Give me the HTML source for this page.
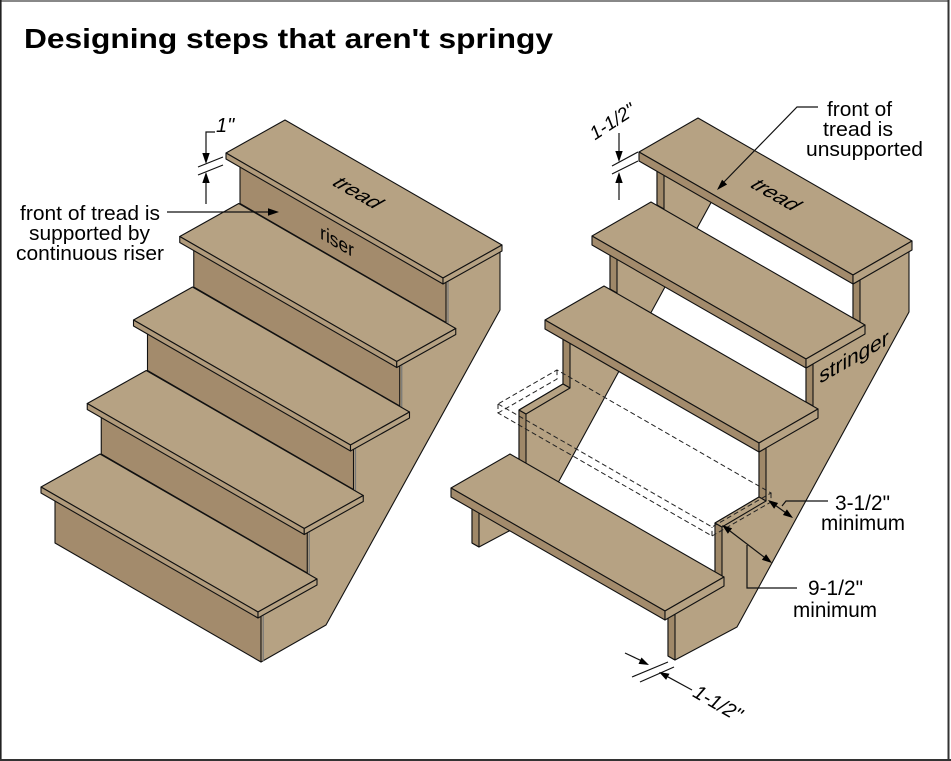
<!DOCTYPE html>
<html>
<head>
<meta charset="utf-8">
<style>
  html, body { margin: 0; padding: 0; background: #fff; }
  svg { display: block; }
  .t { fill: #b6a283; stroke: #111; stroke-width: 1.1; stroke-linejoin: round; }
  .f { fill: #b09a7b; stroke: #111; stroke-width: 1.1; stroke-linejoin: round; }
  .d { fill: #a38b6c; stroke: #111; stroke-width: 1.1; stroke-linejoin: round; }
  .s { fill: #9f8868; stroke: #111; stroke-width: 1.1; stroke-linejoin: round; }
  .ln { fill: none; stroke: #111; stroke-width: 1.2; }
  .ah { fill: #000; stroke: none; }
  text { font-family: "Liberation Sans", Arial, sans-serif; fill: #000; }
</style>
</head>
<body>
<svg width="951" height="761" viewBox="0 0 951 761" xmlns="http://www.w3.org/2000/svg">
  <rect x="0" y="0" width="951" height="761" fill="#fff"/>
  <!-- frame -->
  <line x1="0" y1="1" x2="949" y2="1" stroke="#888" stroke-width="2"/>
  <line x1="0.8" y1="0" x2="0.8" y2="761" stroke="#222" stroke-width="1.6"/>
  <line x1="948.5" y1="0" x2="948.5" y2="761" stroke="#333" stroke-width="2"/>
  <line x1="0" y1="760" x2="951" y2="760" stroke="#333" stroke-width="2"/>

  <!-- title -->
  <text x="24" y="48" font-size="28" font-weight="bold" textLength="529" lengthAdjust="spacingAndGlyphs">Designing steps that aren't springy</text>

  <!-- ============ LEFT STAIR ============ -->
  <polygon class="t" points="500,250 500,310 326,625 261,662 258,616 304,532 350,449 397,365 443,282"/>

  <!-- step 0 -->
  <polygon class="d" points="240,151 446,270 446,322.5 240,203.5"/>
  <line x1="448" y1="281" x2="448" y2="323.5" stroke="#777" stroke-width="1.2"/>
  <polygon class="t" points="226,153 443,278 502,245 285,120"/>
  <polygon class="f" points="226,153 443,278 443,284 226,159"/>
  <polygon class="t" points="443,278 502,245 502,251 443,284"/>

  <!-- step 1 -->
  <polygon class="d" points="193.75,234.5 399.75,353.5 399.75,406 193.75,287"/>
  <line x1="401.75" y1="365" x2="401.75" y2="407" stroke="#777" stroke-width="1.2"/>
  <polygon class="t" points="179.75,236.5 396.75,361.5 455.75,328.5 238.75,203.5"/>
  <polygon class="f" points="179.75,236.5 396.75,361.5 396.75,367.5 179.75,242.5"/>
  <polygon class="t" points="396.75,361.5 455.75,328.5 455.75,334.5 396.75,367.5"/>

  <!-- step 2 -->
  <polygon class="d" points="147.5,318 353.5,437 353.5,489.5 147.5,370.5"/>
  <line x1="355.5" y1="448.5" x2="355.5" y2="490.6" stroke="#777" stroke-width="1.2"/>
  <polygon class="t" points="133.5,320 350.5,445 409.5,412 192.5,287"/>
  <polygon class="f" points="133.5,320 350.5,445 350.5,451 133.5,326"/>
  <polygon class="t" points="350.5,445 409.5,412 409.5,418 350.5,451"/>

  <!-- step 3 -->
  <polygon class="d" points="101.25,401.5 307.25,520.5 307.25,573 101.25,454"/>
  <line x1="309.25" y1="532" x2="309.25" y2="574" stroke="#777" stroke-width="1.2"/>
  <polygon class="t" points="87.25,403.5 304.25,528.5 363.25,495.5 146.25,370.5"/>
  <polygon class="f" points="87.25,403.5 304.25,528.5 304.25,534.5 87.25,409.5"/>
  <polygon class="t" points="304.25,528.5 363.25,495.5 363.25,501.5 304.25,534.5"/>

  <!-- step 4 -->
  <polygon class="d" points="55,485 261,604 261,662 55,543"/>
  <line x1="263.2" y1="615.5" x2="263.2" y2="661" stroke="#777" stroke-width="1.2"/>
  <polygon class="t" points="41,487 258,612 317,579 100,454"/>
  <polygon class="f" points="41,487 258,612 258,618 41,493"/>
  <polygon class="t" points="258,612 317,579 317,585 258,618"/>

  <!-- left labels -->
  <text transform="matrix(0.866,0.5,-0.866,0.5,358,193)" x="0" y="7" font-size="22" text-anchor="middle">tread</text>
  <text transform="matrix(0.866,0.5,0,1,337,241)" x="0" y="7" font-size="20" text-anchor="middle">riser</text>

  <text x="20" y="220" font-size="20" textLength="140" lengthAdjust="spacingAndGlyphs">front of tread is</text>
  <text x="29" y="240" font-size="20" textLength="121" lengthAdjust="spacingAndGlyphs">supported by</text>
  <text x="16" y="260" font-size="20" textLength="148" lengthAdjust="spacingAndGlyphs">continuous riser</text>
  <line class="ln" x1="167" y1="212" x2="269" y2="212"/>
  <polygon class="ah" points="279,212 268,208.3 268,215.7"/>

  <!-- 1" dimension -->
  <polyline class="ln" points="215,132 206,132 206,154"/>
  <polygon class="ah" points="206,164 202.3,153 209.7,153"/>
  <line class="ln" x1="198" y1="167" x2="223" y2="157"/>
  <line class="ln" x1="198" y1="175" x2="223" y2="165"/>
  <polygon class="ah" points="206,172 202.3,183 209.7,183"/>
  <line class="ln" x1="206" y1="182" x2="206" y2="204"/>
  <text x="216" y="132" font-size="20" font-style="italic">1"</text>

  <!-- ============ RIGHT STAIR ============ -->
  <!-- left stringer (translated copy) -->
  <g transform="translate(-196,-113)">
    <polygon class="t" points="909,249 909,312 737,627 675,660 668,656 668,618 715,576 715,523 759,497 759,452 806,405 806,368 853,319 853,284"/>
    <polygon class="s" points="853,284 860,280 860,322 853,318"/>
    <polygon class="s" points="806,368 813,364 813,406 806,402"/>
    <polygon class="s" points="759,452 766,448 766,501 759,497"/>
    <polygon class="s" points="715,523 722,527 722,580 715,576"/>
    <polygon class="s" points="668,618 675,614 675,660 668,656"/>
    <polygon class="t" points="715,523 759,497 766,501 722,527"/>
  </g>
  <!-- right stringer -->
  <g>
    <polygon class="t" points="909,249 909,312 737,627 675,660 668,656 668,618 715,576 715,523 759,497 759,452 806,405 806,368 853,319 853,284"/>
    <polygon class="s" points="853,284 860,280 860,322 853,318"/>
    <polygon class="s" points="806,368 813,364 813,406 806,402"/>
    <polygon class="s" points="759,452 766,448 766,501 759,497"/>
    <polygon class="s" points="715,523 722,527 722,580 715,576"/>
    <polygon class="s" points="668,618 675,614 675,660 668,656"/>
    <polygon class="t" points="715,523 759,497 766,501 722,527"/>
  </g>

  <!-- missing tread, dashed -->
  <g fill="none" stroke="#222" stroke-width="1" stroke-dasharray="5,3">
    <polygon points="498,404 712,527 771,493 557,370"/>
    <polyline points="498,404 498,413 712,536 712,527"/>
    <polyline points="712,536 771,502 771,493"/>
    <polyline points="498,413 557,379 557,370"/>
  </g>

  <!-- tread A -->
  <polygon class="t" points="639,152 853,275 912,241 698,118"/>
  <polygon class="d" points="639,152 853,275 853,284 639,161"/>
  <polygon class="t" points="853,275 912,241 912,250 853,284"/>
  <!-- tread B -->
  <polygon class="t" points="592,236 806,359 865,325 651,202"/>
  <polygon class="d" points="592,236 806,359 806,368 592,245"/>
  <polygon class="t" points="806,359 865,325 865,334 806,368"/>
  <!-- tread C -->
  <polygon class="t" points="545,320 759,443 818,409 604,286"/>
  <polygon class="d" points="545,320 759,443 759,452 545,329"/>
  <polygon class="t" points="759,443 818,409 818,418 759,452"/>
  <!-- tread E -->
  <polygon class="t" points="451,488 665,611 724,577 510,454"/>
  <polygon class="d" points="451,488 665,611 665,620 451,497"/>
  <polygon class="t" points="665,611 724,577 724,586 665,620"/>

  <!-- right labels on wood -->
  <text transform="matrix(0.866,0.5,-0.866,0.5,776,195)" x="0" y="7" font-size="22" text-anchor="middle">tread</text>
  <text transform="matrix(0.866,-0.5,0,1,854,357)" x="0" y="7" font-size="22" text-anchor="middle" textLength="80" lengthAdjust="spacingAndGlyphs">stringer</text>

  <!-- front of tread is unsupported -->
  <text x="827" y="116" font-size="20" textLength="65" lengthAdjust="spacingAndGlyphs">front of</text>
  <text x="823" y="136" font-size="20" textLength="70" lengthAdjust="spacingAndGlyphs">tread is</text>
  <text x="806" y="156" font-size="20" textLength="117" lengthAdjust="spacingAndGlyphs">unsupported</text>
  <polyline class="ln" points="818,107 797,107 723,183"/>
  <polygon class="ah" points="717,190 727.1,184.5 722.1,179.7"/>

  <!-- top 1-1/2" dim -->
  <line class="ln" x1="619" y1="133" x2="619" y2="152"/>
  <polygon class="ah" points="619,162 615.3,151 622.7,151"/>
  <line class="ln" x1="612" y1="166" x2="638" y2="152"/>
  <line class="ln" x1="612" y1="174" x2="638" y2="161"/>
  <polygon class="ah" points="619,172 615.3,183 622.7,183"/>
  <line class="ln" x1="619" y1="182" x2="619" y2="200"/>
  <text transform="translate(612,121) rotate(-33)" x="0" y="7" font-size="19" text-anchor="middle" font-style="italic">1-1/2"</text>

  <!-- 3-1/2" minimum -->
  <line class="ln" x1="776" y1="505.8" x2="785" y2="512.2"/>
  <polygon class="ah" points="768,500 774.1,508.7 778.1,503"/>
  <polygon class="ah" points="793,518 782.9,515 786.9,509.4"/>
  <polyline class="ln" points="782,506 786,501 828,501"/>
  <text x="835" y="510" font-size="21" textLength="55" lengthAdjust="spacingAndGlyphs">3-1/2"</text>
  <text x="821" y="530" font-size="21" textLength="84" lengthAdjust="spacingAndGlyphs">minimum</text>

  <!-- 9-1/2" minimum -->
  <line class="ln" x1="730" y1="531" x2="764" y2="557"/>
  <polygon class="ah" points="722,525 727.9,533.8 732.1,528.2"/>
  <polygon class="ah" points="772,563 761.9,559.8 766.1,554.2"/>
  <polyline class="ln" points="747,545 747,588 797,588"/>
  <text x="808" y="595" font-size="21" textLength="55" lengthAdjust="spacingAndGlyphs">9-1/2"</text>
  <text x="793" y="617" font-size="21" textLength="84" lengthAdjust="spacingAndGlyphs">minimum</text>

  <!-- bottom 1-1/2" dim -->
  <line class="ln" x1="632" y1="677" x2="668" y2="662"/>
  <line class="ln" x1="640" y1="682" x2="674" y2="667"/>
  <line class="ln" x1="625" y1="653" x2="641" y2="660.6"/>
  <polygon class="ah" points="649,665 638.5,663.9 641.5,657.5"/>
  <polygon class="ah" points="659,672 669.5,673.7 666.1,679.9"/>
  <line class="ln" x1="667.8" y1="676.8" x2="692" y2="690"/>
  <text transform="translate(718,703) rotate(30)" x="0" y="7" font-size="20" text-anchor="middle" font-style="italic">1-1/2"</text>
</svg>
</body>
</html>
